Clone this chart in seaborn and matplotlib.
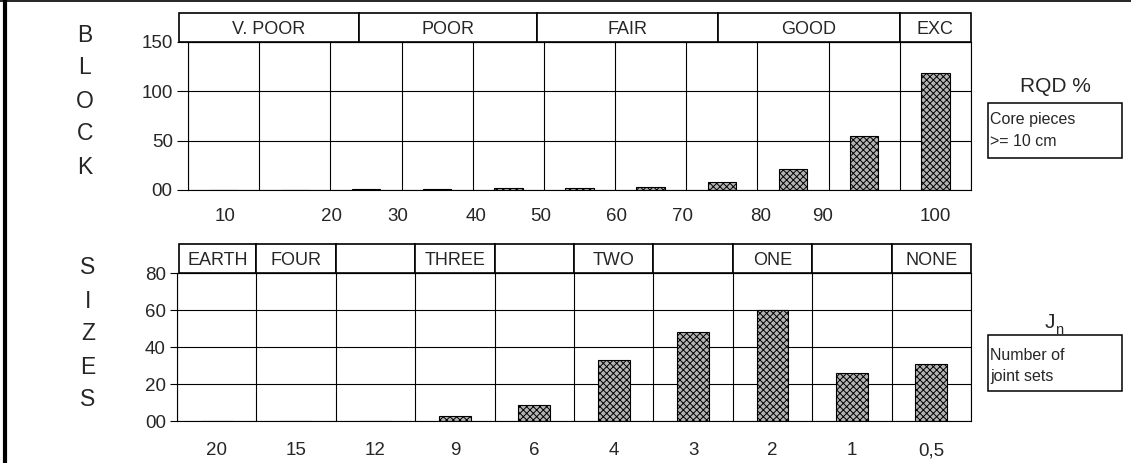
import numpy as np
import matplotlib
matplotlib.use("Agg")
import matplotlib.pyplot as plt
import seaborn as sns
from matplotlib import font_manager
from matplotlib.patches import Rectangle
from matplotlib.lines import Line2D
from matplotlib.transforms import blended_transform_factory

# ---------------- data ----------------
rqd_bins = ["0-10", "10-20", "20-30", "30-40", "40-50", "50-60",
            "60-70", "70-80", "80-90", "90-95", "95-100"]
rqd_counts = [0, 0, 1, 1, 2, 2, 3, 8, 21, 55, 119]
rqd_tick_labels = ["10", "20", "30", "40", "50", "60", "70", "80", "90", "100"]
rqd_tick_pos = [0.02, 1.52, 2.45, 3.54, 4.45, 5.52, 6.45, 7.54, 8.41, 10.0]
rqd_classes = ["V. POOR", "POOR", "FAIR", "GOOD", "EXC"]
rqd_class_edges = [-0.63, 1.9, 4.4, 6.95, 9.5, 10.5]
rqd_yticks = [0, 50, 100, 150]
rqd_ylabels = ["00", "50", "100", "150"]

jn_labels = ["20", "15", "12", "9", "6", "4", "3", "2", "1", "0,5"]
jn_counts = [0, 0, 0, 3, 9, 33, 48, 60, 26, 31]
jn_classes = ["EARTH", "FOUR", "", "THREE", "", "TWO", "", "ONE", "", "NONE"]
jn_yticks = [0, 20, 40, 60, 80]
jn_ylabels = ["00", "20", "40", "60", "80"]

# ---------------- style ----------------
sns.set_style("white")
names = {f.name for f in font_manager.fontManager.ttflist}
REG = "Liberation Sans" if "Liberation Sans" in names else "DejaVu Sans"
plt.rcParams["font.family"] = [REG, "DejaVu Sans"]
plt.rcParams["hatch.linewidth"] = 0.7
plt.rcParams["hatch.color"] = "#202020"

W, H = 1131, 463
fig = plt.figure(figsize=(W / 100, H / 100), dpi=100)
fig.patch.set_facecolor("white")

ax1 = fig.add_axes([188 / W, 1 - 190 / H, 783 / W, 148 / H])
ax2 = fig.add_axes([177 / W, 1 - 421.3 / H, 794 / W, 148.3 / H])

TICK_FS = 13.5
HEAD_FS = 13
SIDE_FS = 16.5
BOX_FS = 11.5


def draw_panel(ax, cats, vals, ymax, yticks, ylabels, ytick_len):
    sns.barplot(x=cats, y=vals, ax=ax, width=0.4, color="#b4b4b4",
                edgecolor="black", linewidth=0.8, saturation=1)
    for p in ax.patches:
        p.set_hatch("xxxxx")
    n = len(cats)
    ax.set_xlim(-0.5, n - 0.5)
    ax.set_ylim(0, ymax)
    ax.set_yticks(yticks)
    ax.set_yticklabels(ylabels, fontsize=TICK_FS)
    ax.set_xticks(np.arange(-0.5, n, 1.0))
    ax.set_xticklabels([""] * (n + 1))
    ax.grid(True, which="major", color="black", linewidth=0.8)
    ax.set_axisbelow(True)
    for s in ax.spines.values():
        s.set_visible(True)
        s.set_color("black")
        s.set_linewidth(0.8)
    ax.tick_params(axis="x", which="major", direction="out", length=5,
                   width=0.8, color="black")
    ax.tick_params(axis="y", which="major", direction="out", length=ytick_len,
                   width=0.8, color="black", pad=3, left=True)
    ax.set_xlabel("")
    ax.set_ylabel("")


def draw_header(ax, edges, labels, frac, ax_h_px):
    tr = blended_transform_factory(ax.transData, ax.transAxes)
    for i, lab in enumerate(labels):
        x0, x1 = edges[i], edges[i + 1]
        ax.add_patch(Rectangle((x0, 1.0), x1 - x0, frac, transform=tr,
                               facecolor="white", edgecolor="black",
                               linewidth=1.2, clip_on=False, zorder=5))
        if lab:
            ax.text((x0 + x1) / 2, 1.0 + frac / 2 - 6.5 / ax_h_px, lab,
                    transform=tr, ha="center", va="baseline",
                    fontsize=HEAD_FS, zorder=6, clip_on=False)


# top panel (RQD)
draw_panel(ax1, rqd_bins, rqd_counts, 150, rqd_yticks, rqd_ylabels, 8)
ax1.set_xticks(rqd_tick_pos, minor=True)
ax1.set_xticklabels(rqd_tick_labels, minor=True, fontsize=TICK_FS)
ax1.tick_params(axis="x", which="minor", length=0, pad=13)
draw_header(ax1, rqd_class_edges, rqd_classes, 29 / 148, 148)

# bottom panel (Jn)
draw_panel(ax2, jn_labels, jn_counts, 80, jn_yticks, jn_ylabels, 5)
ax2.set_xticks(np.arange(len(jn_labels)), minor=True)
ax2.set_xticklabels(jn_labels, minor=True, fontsize=TICK_FS)
ax2.tick_params(axis="x", which="minor", length=0, pad=15)
jn_edges = [-0.47] + list(np.arange(0.5, len(jn_labels), 1.0))
draw_header(ax2, jn_edges, jn_classes, 29.4 / 148.3, 148.3)

# vertical side letters
for i, ch in enumerate("BLOCK"):
    fig.text(85 / W, 1 - (35 + 33 * i) / H, ch, ha="center", va="center",
             fontsize=SIDE_FS)
for i, ch in enumerate("SIZES"):
    fig.text(88 / W, 1 - (268 + 33 * i) / H, ch, ha="center", va="center",
             fontsize=SIDE_FS)

# right annotations
fig.text(1055 / W, 1 - 86 / H, "RQD %", ha="center", va="center", fontsize=15)
fig.add_artist(Rectangle((988 / W, 1 - 158 / H), 134 / W, 55 / H,
                         transform=fig.transFigure, fill=False,
                         edgecolor="black", linewidth=1.1))
fig.text(990 / W, 1 - 119 / H, "Core pieces", ha="left", va="center",
         fontsize=BOX_FS)
fig.text(990 / W, 1 - 142 / H, ">= 10 cm", ha="left", va="center",
         fontsize=BOX_FS)

fig.text(1050 / W, 1 - 323 / H, "J", ha="center", va="center", fontsize=15)
fig.text(1055 / W, 1 - 330 / H, "n", ha="left", va="center", fontsize=10.5)
fig.add_artist(Rectangle((988 / W, 1 - 391 / H), 134 / W, 56 / H,
                         transform=fig.transFigure, fill=False,
                         edgecolor="black", linewidth=1.1))
fig.text(990 / W, 1 - 355 / H, "Number of", ha="left", va="center",
         fontsize=BOX_FS)
fig.text(990 / W, 1 - 376 / H, "joint sets", ha="left", va="center",
         fontsize=BOX_FS)

# outer frame lines (left thick, top thin)
fig.add_artist(Line2D([5 / W, 5 / W], [0, 1], transform=fig.transFigure,
                      color="black", linewidth=3))
fig.add_artist(Line2D([0, 1], [1 - 0.7 / H, 1 - 0.7 / H], transform=fig.transFigure,
                      color="black", linewidth=1.2))

fig.savefig("out.png", dpi=100, facecolor="white")
